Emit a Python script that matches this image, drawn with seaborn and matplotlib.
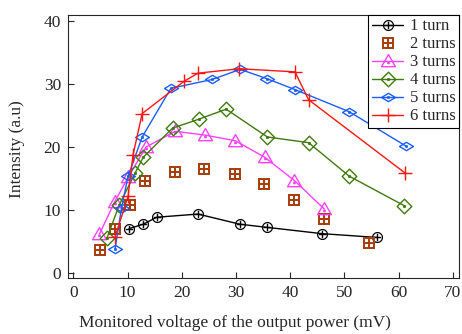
import numpy as np
import pandas as pd
import matplotlib
matplotlib.use("Agg")
import matplotlib.pyplot as plt
import seaborn as sns
from matplotlib.path import Path

# ---- data ----
x1 = [10.3, 12.9, 15.4, 23.0, 30.7, 35.7, 45.9, 56.0]
y1 = [7.1, 7.8, 8.9, 9.4, 7.8, 7.3, 6.3, 5.7]

x2 = [5.0, 7.7, 10.5, 13.3, 18.8, 24.2, 29.8, 35.2, 40.7, 46.3, 54.6]
y2 = [3.7, 7.1, 10.8, 14.6, 16.0, 16.6, 15.7, 14.1, 11.7, 8.6, 4.9]

x3 = [4.8, 7.6, 10.1, 13.4, 18.8, 24.3, 29.9, 35.3, 40.8, 46.3]
y3 = [6.2, 11.3, 15.2, 20.0, 22.5, 21.9, 21.0, 18.4, 14.7, 10.2]

x4 = [6.2, 8.5, 11.4, 12.9, 18.3, 23.1, 28.2, 35.8, 43.4, 50.9, 61.1]
y4 = [5.6, 10.9, 15.9, 18.4, 23.0, 24.4, 26.0, 21.6, 20.7, 15.4, 10.7]

x5 = [7.7, 8.9, 10.1, 12.7, 18.0, 25.6, 30.8, 35.8, 40.9, 50.9, 61.3]
y5 = [3.9, 10.4, 15.4, 21.6, 29.3, 30.7, 32.3, 30.8, 29.1, 25.6, 20.2]

x6 = [7.7, 10.1, 11.0, 12.7, 20.4, 23.0, 30.6, 40.9, 43.4, 61.2]
y6 = [5.8, 12.2, 18.7, 25.3, 30.4, 31.7, 32.4, 31.9, 27.5, 15.9]

labels = ["1 turn", "2 turns", "3 turns", "4 turns", "5 turns", "6 turns"]
colors = ["#000000", "#a8400e", "#ff40ff", "#3f7a0c", "#1a5cff", "#ff1414"]

sns.set_style("ticks")
plt.rcParams["font.family"] = ["Liberation Serif", "DejaVu Serif"]
plt.rcParams["mathtext.fontset"] = "dejavusans"


def outline_with_dot(pts, dx=0.0, dy=0.0, d=0.1):
    # closed outline plus a tiny square in the middle (reads as a dot)
    verts = list(pts) + [pts[0]]
    codes = [Path.MOVETO] + [Path.LINETO] * (len(pts) - 1) + [Path.CLOSEPOLY]
    sq = [(dx - d, dy - d), (dx + d, dy - d), (dx + d, dy + d), (dx - d, dy + d), (dx - d, dy - d)]
    verts += sq
    codes += [Path.MOVETO, Path.LINETO, Path.LINETO, Path.LINETO, Path.CLOSEPOLY]
    return Path(verts, codes)


tri_dot = outline_with_dot([(0, 1), (-1.0, -0.75), (1.0, -0.75)], dy=-0.2)
dia_dot = outline_with_dot([(-1, 0), (0, 1), (1, 0), (0, -1)])
flat_dot = outline_with_dot([(-1, 0), (0, 0.6), (1, 0), (0, -0.6)])

fig = plt.figure(figsize=(4.62, 3.34), dpi=100)
ax = fig.add_axes([0.147, 0.168, 0.847, 0.787])

# (x, y, marker, size, glyph-marker?, connect?)
series = [
    (x1, y1, "$\\oplus$", 8, True, True),
    (x2, y2, "$\\boxplus$", 8, True, False),
    (x3, y3, tri_dot, 10, False, True),
    (x4, y4, dia_dot, 10.5, False, True),
    (x5, y5, flat_dot, 10, False, True),
    (x6, y6, "+", 10, False, True),
]

for (xs, ys, mk, ms, glyph, line), lab, c in zip(series, labels, colors):
    df = pd.DataFrame({"x": xs, "y": ys})
    sns.lineplot(data=df, x="x", y="y", sort=False, estimator=None, ax=ax,
                 color=c, lw=1.0, linestyle="-" if line else "",
                 marker=mk, markersize=ms,
                 markerfacecolor=c if glyph else "none",
                 markeredgecolor=c, markeredgewidth=0 if glyph else 1.0,
                 label=lab)

ax.set_xlim(-1, 71.2)
ax.set_ylim(-0.7, 40.9)
ax.set_xticks(np.arange(0, 71, 10))
ax.set_yticks(np.arange(0, 41, 10))
ax.tick_params(direction="in", length=4, width=0.8, labelsize=12.5, pad=5)
for s in ax.spines.values():
    s.set_linewidth(0.8)
ax.set_xlabel("Monitored voltage of the output power (mV)", fontsize=12.5)
ax.set_ylabel("Intensity (a.u)", fontsize=12.5)
ax.xaxis.set_label_coords(0.426, -0.14)
ax.yaxis.set_label_coords(-0.11, 0.49)

leg = ax.legend(loc="upper right", fontsize=12,
                frameon=True, fancybox=False, framealpha=1, edgecolor="black",
                borderaxespad=0, handlelength=1.9, handletextpad=0.4,
                labelspacing=0.12, borderpad=0.2)
leg.get_frame().set_linewidth(0.8)

fig.savefig("out.png", dpi=100)
